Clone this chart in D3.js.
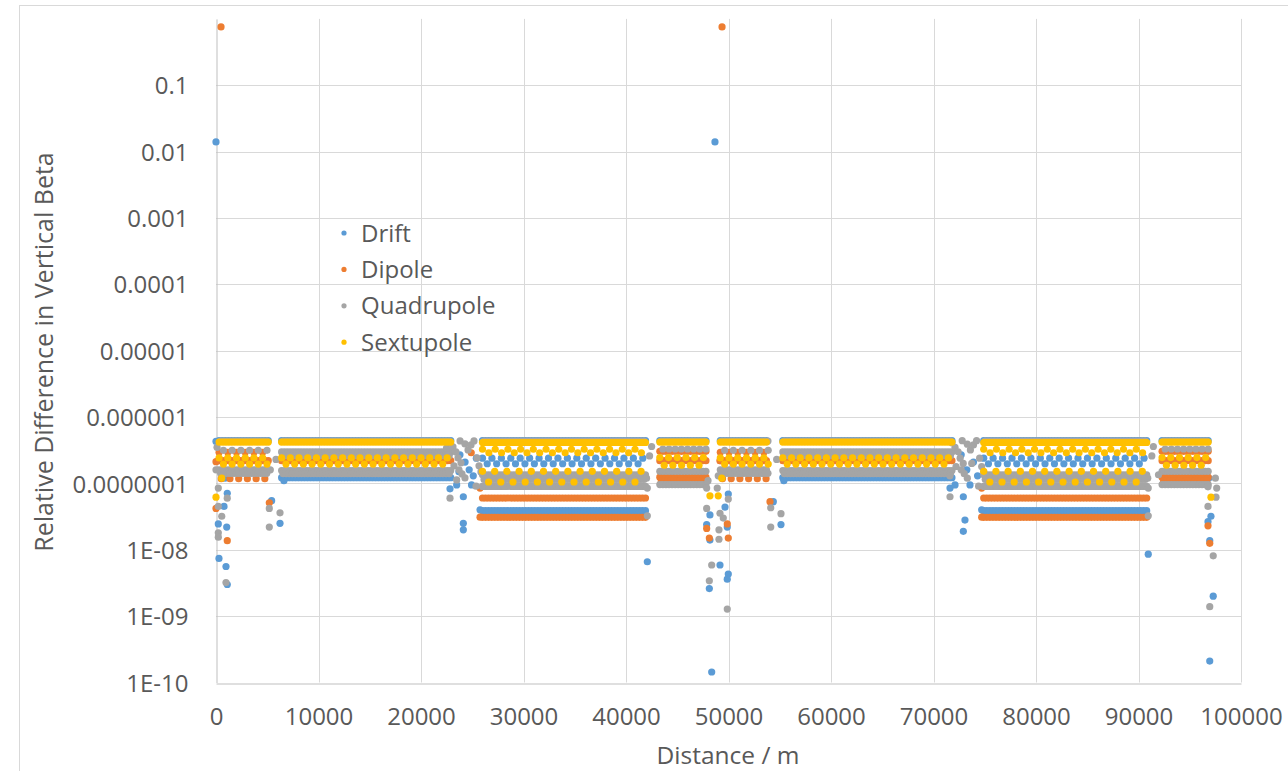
<!DOCTYPE html>
<html>
<head>
<meta charset="utf-8">
<script src="https://cdn.jsdelivr.net/npm/d3@7"></script>
<style>
  html, body { margin: 0; padding: 0; background: #ffffff; }
  svg { display: block; font-family: "Open Sans", "Liberation Sans", sans-serif; }
</style>
</head>
<body>
<svg id="chart" width="1288" height="771"></svg>
<script>
// ---------------------------------------------------------------
// Relative difference in vertical beta along the ring, per element type
// ---------------------------------------------------------------
const seriesNames  = ["Drift", "Dipole", "Quadrupole", "Sextupole"];
const seriesColors = ["#5B9BD5", "#ED7D31", "#A5A5A5", "#FFC000"];

const xTicks = [0, 10000, 20000, 30000, 40000, 50000, 60000, 70000, 80000, 90000, 100000];
const yTicks = [1e-10, 1e-9, 1e-8, 1e-7, 1e-6, 1e-5, 1e-4, 1e-3, 1e-2, 1e-1];
const yTickLabels = ["1E-10", "1E-09", "1E-08", "0.0000001", "0.000001", "0.00001",
                     "0.0001", "0.001", "0.01", "0.1"];

// Arc sections of the ring (m) and the cell layout used in each
const arcStart = [300, 6400, 26000, 43300, 49200, 55300, 74900, 92300];
const arcEnd   = [5100, 22900, 42000, 47900, 53900, 71800, 90900, 96900];
const arcType  = ["shortA", "longA", "longB", "shortB", "shortA", "longA", "longB", "shortB"];

// Repeating elements in each cell layout:
// [series index, relative difference, element period (m), phase within period]
const shortARows = [
  [0, 4.4e-7, 300, 0],
  [2, 4.35e-7, 300, 0.5],
  [3, 4.2e-7, 300, 0],
  [1, 2.95e-7, 850, 0],
  [2, 3.15e-7, 850, 0.5],
  [1, 2.2e-7, 300, 0],
  [3, 2.42e-7, 850, 0],
  [3, 1.96e-7, 850, 0.5],
  [2, 1.6e-7, 300, 0],
  [2, 1.42e-7, 300, 0.5],
  [1, 1.18e-7, 850, 0.25]
];
const shortBRows = [
  [0, 4.4e-7, 300, 0],
  [2, 4.35e-7, 300, 0.5],
  [3, 4.2e-7, 300, 0],
  [1, 3.05e-7, 300, 0],
  [2, 3.3e-7, 600, 0.5],
  [1, 2.2e-7, 300, 0],
  [3, 2.45e-7, 850, 0],
  [3, 1.88e-7, 850, 0.5],
  [2, 1.52e-7, 300, 0],
  [1, 1.24e-7, 300, 0],
  [1, 1.08e-7, 300, 0.5],
  [2, 9.6e-8, 300, 0]
];
const longARows = [
  [0, 4.4e-7, 300, 0],
  [2, 4.35e-7, 300, 0.5],
  [3, 4.2e-7, 300, 0],
  [2, 2.98e-7, 300, 0],
  [2, 2.62e-7, 300, 0.5],
  [1, 2.2e-7, 300, 0],
  [3, 2.42e-7, 850, 0],
  [3, 1.96e-7, 850, 0.5],
  [2, 1.56e-7, 300, 0],
  [2, 1.4e-7, 300, 0.5],
  [0, 1.22e-7, 300, 0]
];
const longBRows = [
  [0, 4.4e-7, 300, 0],
  [2, 4.35e-7, 300, 0.5],
  [3, 4.14e-7, 300, 0],
  [3, 3.27e-7, 1240, 0],
  [3, 2.9e-7, 1240, 0.5],
  [0, 2.4e-7, 920, 0],
  [0, 1.98e-7, 920, 0.5],
  [2, 1.35e-7, 300, 0],
  [2, 1.15e-7, 300, 0.5],
  [2, 9.0e-8, 300, 0],
  [3, 1.52e-7, 1190, 0],
  [3, 1.05e-7, 1190, 0.5],
  [1, 6.03e-8, 300, 0],
  [0, 3.88e-8, 300, 0],
  [1, 3.08e-8, 300, 0]
];
const cellRows = { shortA: shortARows, shortB: shortBRows, longA: longARows, longB: longBRows };

// Isolated elements (interaction regions, dispersion suppressors): [s (m), value]
const driftPoints = [
  [0, 0.014], [0, 4.3e-7], [225, 2.2e-7], [880, 1.2e-7], [1100, 7.1e-8], [780, 4.5e-8],
  [225, 2.45e-8], [1045, 2.2e-8], [290, 7.4e-9], [975, 5.6e-9], [1100, 3.0e-9],
  [5430, 5.5e-8], [6245, 2.5e-8], [6630, 1.1e-7],
  [22830, 8.3e-8], [23480, 9.5e-8], [24130, 6.3e-8], [24130, 2.5e-8], [24130, 2.0e-8],
  [24930, 9.5e-8], [25760, 4.0e-8], [23800, 2.7e-7], [24300, 2.1e-7], [24700, 1.6e-7],
  [25100, 1.3e-7], [23700, 1.5e-7], [25400, 2.4e-7],
  [42080, 6.6e-9],
  [48680, 0.014], [48190, 3.35e-8], [47870, 2.4e-8], [48190, 1.4e-8], [49880, 2.2e-8],
  [49660, 4.4e-8], [49980, 6.9e-8], [49170, 5.9e-9], [49980, 4.3e-9], [49880, 3.6e-9],
  [48130, 2.6e-9], [48360, 1.44e-10], [49300, 1.5e-7], [47950, 1.1e-7],
  [54370, 5.3e-8], [55120, 2.4e-8], [55400, 1.1e-7],
  [71610, 8.5e-8], [72100, 9.5e-8], [72910, 6.3e-8], [73070, 2.8e-8], [72910, 1.9e-8],
  [73560, 9.5e-8], [73250, 1.6e-7], [72700, 2.7e-7], [73900, 2.1e-7], [74300, 1.3e-7],
  [74700, 4.0e-8],
  [90950, 8.6e-9],
  [97070, 3.2e-8], [96780, 2.65e-8], [96950, 1.37e-8], [97290, 2.0e-9], [96950, 2.1e-10],
  [96850, 1.2e-7]
];
const dipolePoints = [
  [490, 0.757], [0, 2.13e-7], [0, 4.2e-8], [1100, 1.37e-8],
  [5200, 5.1e-8],
  [25760, 8.5e-8], [25760, 3.1e-8], [24900, 2.9e-7],
  [49370, 0.757], [47870, 2.1e-8], [48130, 1.5e-8], [49980, 1.5e-8], [49880, 2.45e-8],
  [49170, 2.2e-7],
  [54050, 5.3e-8],
  [74700, 8.5e-8], [74700, 3.1e-8],
  [96780, 2.3e-8], [96950, 1.25e-8]
];
const quadrupolePoints = [
  [0, 1.6e-7], [225, 8.5e-8], [1100, 6.0e-8], [225, 4.5e-8], [560, 3.2e-8], [225, 1.8e-8],
  [225, 1.55e-8], [975, 3.2e-9], [100, 3.5e-7],
  [5200, 4.2e-8], [6245, 3.6e-8], [5200, 2.2e-8], [5850, 2.3e-7], [5300, 1.6e-7],
  [22490, 3.4e-7], [22830, 6.0e-8], [23480, 1.13e-7], [22830, 4.07e-7], [23120, 3.55e-7],
  [23410, 2.98e-7], [23610, 2.42e-7], [23900, 2.04e-7], [23220, 1.84e-7], [23710, 1.6e-7],
  [24000, 1.39e-7], [24290, 1.21e-7], [24590, 3.2e-7], [24880, 3.8e-7], [25170, 4.37e-7],
  [25460, 2.42e-7], [25660, 1.84e-7], [25850, 1.49e-7], [23810, 4.37e-7], [24290, 3.94e-7],
  [25370, 9.1e-8],
  [42080, 8.5e-8], [42080, 3.25e-8], [42000, 1.2e-7], [42500, 3.6e-7], [42300, 2.6e-7],
  [47870, 4.2e-8], [49070, 1.44e-8], [49070, 2.0e-8], [49490, 3.0e-8], [49170, 3.55e-8],
  [49980, 5.8e-8], [47870, 8.5e-8], [48900, 8.5e-8], [48360, 5.9e-9], [48130, 3.4e-9],
  [49880, 1.28e-9], [48000, 1.1e-7], [49000, 1.3e-7],
  [54120, 4.3e-8], [55120, 3.5e-8], [54120, 2.2e-8], [54700, 2.3e-7],
  [71610, 6.3e-8], [73730, 2.0e-7], [71800, 4.1e-7], [72100, 3.5e-7], [72400, 3.0e-7],
  [72600, 2.4e-7], [72900, 2.0e-7], [72200, 1.8e-7], [72700, 1.6e-7], [73000, 1.4e-7],
  [73300, 1.2e-7], [73600, 3.2e-7], [73900, 3.8e-7], [74200, 4.4e-7], [74500, 2.4e-7],
  [74700, 1.8e-7], [74900, 1.5e-7], [72800, 4.4e-7], [73300, 3.9e-7], [74400, 9.1e-8],
  [71600, 1.3e-7],
  [90950, 3.25e-8], [90950, 8.5e-8], [90900, 1.2e-7], [91450, 3.6e-7], [91300, 2.6e-7],
  [91950, 1.35e-7],
  [96780, 8.9e-8], [97630, 8.5e-8], [97560, 6.2e-8], [96780, 4.5e-8], [97290, 8.1e-9],
  [96950, 1.39e-9], [97500, 1.2e-7]
];
const sextupolePoints = [
  [560, 1.2e-7], [0, 6.2e-8],
  [48190, 6.5e-8], [49000, 6.5e-8], [49340, 1.2e-7],
  [97070, 6.2e-8]
];
const isolatedPoints = [driftPoints, dipolePoints, quadrupolePoints, sextupolePoints];

// ---------------------------------------------------------------
// Assemble the element list for every series
// ---------------------------------------------------------------
const pointsBySeries = seriesNames.map(() => []);
arcStart.forEach((start, i) => {
  const end = arcEnd[i];
  cellRows[arcType[i]].forEach(([si, value, period, phase]) => {
    for (let s = start + phase * period; s <= end; s += period) {
      pointsBySeries[si].push([s, value]);
    }
  });
});
isolatedPoints.forEach((list, si) => list.forEach(p => pointsBySeries[si].push(p)));

// ---------------------------------------------------------------
// Layout
// ---------------------------------------------------------------
const svg = d3.select("#chart");
const W = 1288, H = 771;
const plot = { left: 216, right: 1241, top: 18.9, bottom: 682.5 };
const textColor = "#595959";

const x = d3.scaleLinear().domain([0, 100000]).range([plot.left, plot.right]);
const y = d3.scaleLog().domain([1e-10, 1]).range([plot.bottom, plot.top]);

// chart area outline
svg.append("rect")
  .attr("x", 19.5).attr("y", 5.5).attr("width", W).attr("height", H)
  .attr("fill", "none").attr("stroke", "#D9D9D9").attr("stroke-width", 1);

// gridlines
const grid = svg.append("g").attr("stroke", "#D9D9D9").attr("stroke-width", 1);
grid.selectAll("line.h").data(yTicks.slice(1)).join("line")
  .attr("class", "h")
  .attr("x1", plot.left).attr("x2", plot.right)
  .attr("y1", d => Math.round(y(d)) + 0.5).attr("y2", d => Math.round(y(d)) + 0.5);
grid.selectAll("line.v").data(xTicks.slice(1)).join("line")
  .attr("class", "v")
  .attr("y1", y(1)).attr("y2", plot.bottom)
  .attr("x1", d => Math.round(x(d)) + 0.5).attr("x2", d => Math.round(x(d)) + 0.5);

// axes
const xAxis = d3.axisBottom(x).tickValues(xTicks).tickSize(0).tickPadding(26)
  .tickFormat(d3.format("d"));
const gx = svg.append("g").attr("transform", `translate(0,${Math.round(plot.bottom) + 0.5})`).call(xAxis);
gx.select(".domain").attr("stroke", "#BFBFBF");
gx.selectAll("text").attr("fill", textColor).attr("font-size", 24)
  .attr("font-family", "'Open Sans', sans-serif").attr("dy", "0.71em").attr("y", 24);

const yAxis = d3.axisLeft(y).tickValues(yTicks).tickSize(0).tickPadding(28)
  .tickFormat((d, i) => yTickLabels[i]);
const gy = svg.append("g").attr("transform", `translate(${Math.round(plot.left) + 0.5},0)`).call(yAxis);
gy.select(".domain").attr("stroke", "#BFBFBF");
gy.selectAll("text").attr("fill", textColor).attr("font-size", 24)
  .attr("font-family", "'Open Sans', sans-serif").attr("dy", "0.36em");

// axis titles
svg.append("text")
  .attr("x", 728).attr("y", 764)
  .attr("text-anchor", "middle").attr("fill", textColor).attr("font-size", 24.5)
  .text("Distance / m");
svg.append("text")
  .attr("transform", "translate(53,352) rotate(-90)")
  .attr("text-anchor", "middle").attr("fill", textColor).attr("font-size", 25)
  .text("Relative Difference in Vertical Beta");

// data points, series drawn in legend order
const marks = svg.append("g");
pointsBySeries.forEach((pts, si) => {
  marks.append("g")
    .attr("fill", seriesColors[si])
    .selectAll("circle").data(pts).join("circle")
    .attr("cx", d => x(d[0]))
    .attr("cy", d => y(d[1]))
    .attr("r", 3.6);
});

// legend
const legend = svg.append("g").attr("transform", "translate(344,233)");
seriesNames.forEach((name, i) => {
  const row = legend.append("g").attr("transform", `translate(0,${i * 36.4})`);
  row.append("circle").attr("r", 2.6).attr("fill", seriesColors[i]);
  row.append("text").attr("x", 17).attr("y", 8.6)
    .attr("fill", textColor).attr("font-size", 24).text(name);
});
</script>
</body>
</html>
